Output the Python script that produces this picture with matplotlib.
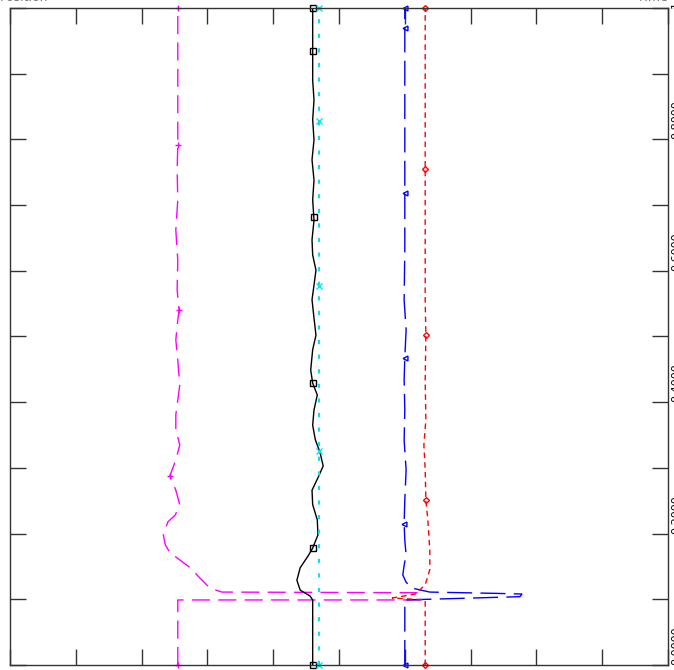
import numpy as np
import matplotlib
matplotlib.use('Agg')
import matplotlib.pyplot as plt

# time axis runs bottom -> top, signal value runs left -> right
black_t = [0, 990, 1050, 1140, 1290, 1480, 1660, 1780, 1980, 2210, 2440, 2660, 2850, 3030,
           3240, 3430, 3650, 3880, 4110, 4290, 4490, 4800, 5020, 5280, 5560, 5780, 6010,
           6240, 6470, 6770, 7080, 7380, 7690, 7990, 8300, 8600, 8900, 9350, 9670, 10000]
black_x = [4.60, 4.60, 4.56, 4.41, 4.36, 4.41, 4.53, 4.60, 4.68, 4.67, 4.60, 4.59, 4.68, 4.76,
           4.71, 4.64, 4.60, 4.62, 4.67, 4.60, 4.57, 4.60, 4.65, 4.62, 4.59, 4.62, 4.65,
           4.60, 4.59, 4.62, 4.60, 4.62, 4.59, 4.62, 4.60, 4.62, 4.60, 4.60, 4.60, 4.60]
black_marks = [0, 1780, 4290, 6820, 9350, 10000]

cyan_t = [0, 10000]
cyan_x = [4.70, 4.70]
cyan_marks = [0, 3260, 5770, 8280, 10000]

magenta_t = [0, 990, 990, 1100, 1110, 1170, 1320, 1480, 1600, 1710, 1830, 1980, 2180, 2280,
             2440, 2660, 2880, 3120, 3350, 3580, 3810, 4030, 4260, 4640, 4950, 5250, 5400,
             5710, 6160, 6620, 7080, 7530, 7910, 8600, 9360, 10000]
magenta_x = [2.55, 2.55, 6.23, 6.23, 3.22, 3.04, 2.89, 2.74, 2.58, 2.43, 2.36, 2.33, 2.40, 2.51,
             2.58, 2.52, 2.43, 2.52, 2.58, 2.52, 2.52, 2.55, 2.58, 2.55, 2.52, 2.55, 2.57,
             2.54, 2.55, 2.52, 2.55, 2.54, 2.55, 2.55, 2.55, 2.55]
magenta_marks = [0, 2880, 5400, 7910, 10000]

blue_t = [0, 990, 1040, 1080, 1090, 1110, 1170, 1260, 1370, 1520, 1670, 1900, 2150, 2510,
          2970, 3420, 3880, 4340, 4670, 5100, 5550, 6310, 7180, 7840, 8600, 9700, 10000]
blue_x = [6.00, 6.00, 7.75, 7.78, 7.40, 6.38, 6.11, 6.02, 5.97, 5.99, 6.02, 6.00, 5.99, 6.00,
          6.02, 5.99, 6.00, 5.99, 6.00, 6.02, 5.99, 6.00, 6.00, 6.00, 6.00, 6.00, 6.00]
blue_marks = [0, 2150, 4670, 7180, 9700, 10000]

red_t = [0, 990, 1020, 1080, 1220, 1450, 1750, 2210, 2510, 2970, 3350, 3730, 4340, 5020,
         5550, 6310, 7550, 8600, 10000]
red_x = [6.31, 6.31, 5.81, 6.16, 6.31, 6.38, 6.38, 6.35, 6.32, 6.31, 6.29, 6.32, 6.31, 6.32,
         6.31, 6.31, 6.31, 6.31, 6.31]
red_marks = [0, 2510, 5020, 7550, 10000]

fig = plt.figure(figsize=(6.74, 6.70), dpi=100)
ax = fig.add_axes([10 / 674, 5 / 670, 658 / 674, 657 / 670])

def trace(x, t, marks, color, marker, lw=1, ms=4, **kw):
    ax.plot(x, t, color=color, linewidth=lw, **kw)
    ax.plot(np.interp(marks, t, x), marks, linestyle='none', marker=marker, color=color,
            markersize=ms, markerfacecolor='none', markeredgewidth=1, clip_on=False)

trace(magenta_x, magenta_t, magenta_marks, '#ff00ff', '+', dashes=(13, 6))
trace(black_x, black_t, black_marks, 'black', 's')
trace(cyan_x, cyan_t, cyan_marks, '#00e5ee', 'x', lw=1.5, dashes=(2, 5))
trace(blue_x, blue_t, blue_marks, '#0000ff', '<', ms=3.5, dashes=(18, 6))
trace(red_x, red_t, red_marks, '#ff0000', 'D', ms=3, dashes=(4, 3))

ax.set_xlim(0, 10)
ax.set_ylim(0, 10000)
ax.set_xticks(np.arange(0, 11, 1))
ax.set_yticks(np.arange(0, 10001, 1000))
ax.set_yticklabels(['%.4f' % (v / 10000) if i % 2 == 0 else ''
                    for i, v in enumerate(np.arange(0, 10001, 1000))])
ax.tick_params(direction='in', length=11.5, width=1, color='#333333',
               top=True, right=True, labelbottom=False, labelleft=False,
               labelright=True, labelsize=8, pad=2)
for lab in ax.get_yticklabels():
    lab.set_rotation(90)
    lab.set_va('bottom')
for s in ax.spines.values():
    s.set_color('#333333')
    s.set_linewidth(1)

# cut-off titles above the frame
fig.text(0.0, 1.004, 'Position', fontsize=9, color='#777777', va='center', ha='left')
fig.text(0.99, 1.004, 'Time', fontsize=9, color='#777777', va='center', ha='right')

fig.savefig('out.png', dpi=100)
